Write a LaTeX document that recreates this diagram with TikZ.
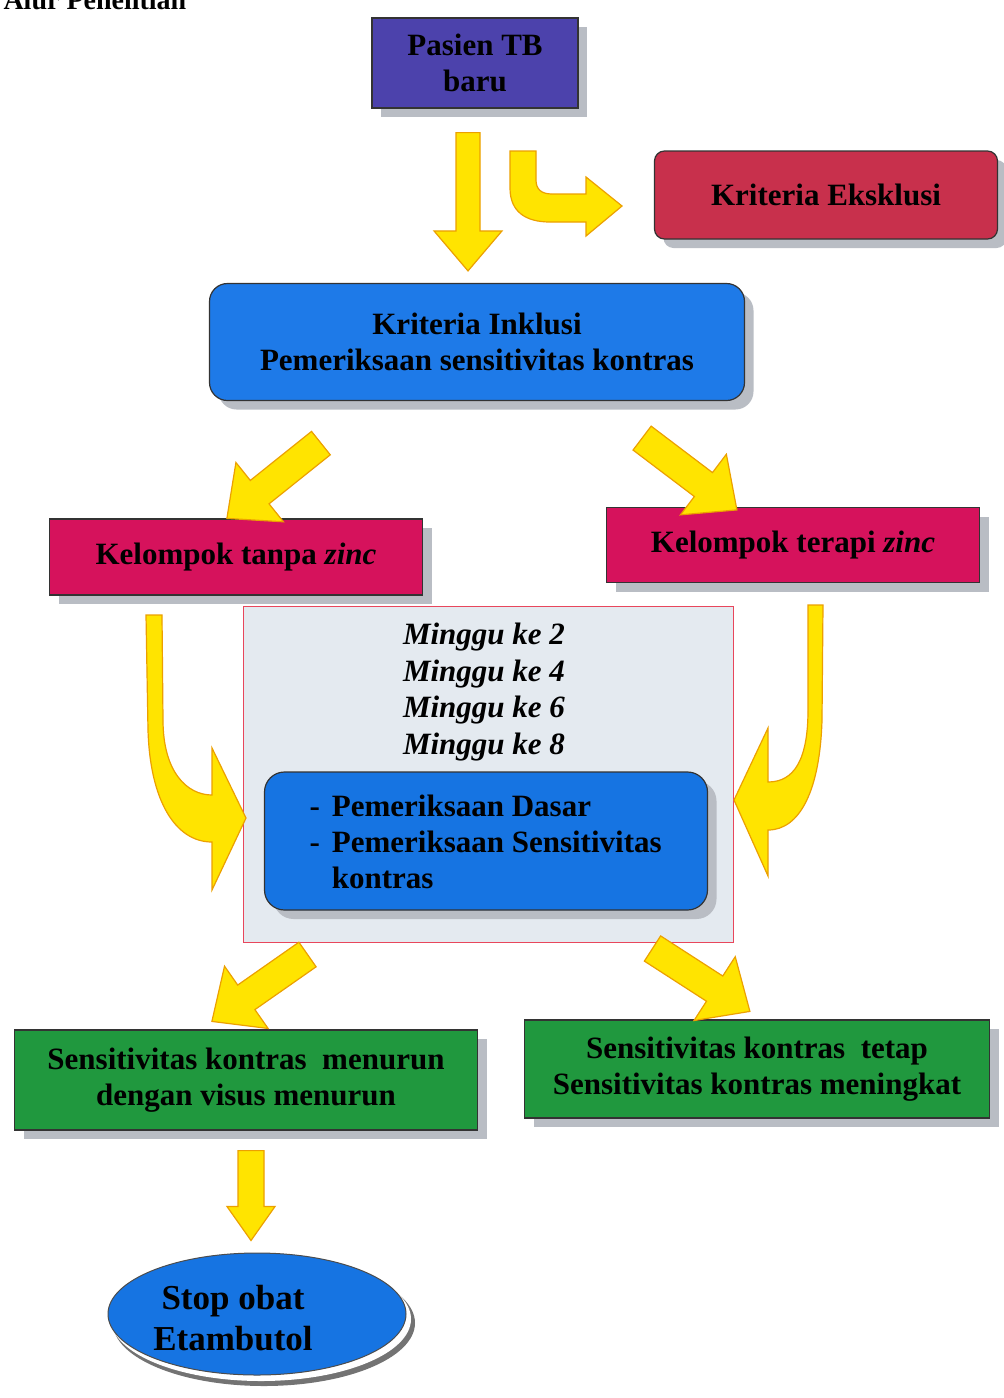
\documentclass[tikz,border=0pt]{standalone}
\usepackage{fontspec}
\setmainfont{Liberation Serif}
\usetikzlibrary{calc,shapes.geometric,shadows}
\definecolor{cpurple}{RGB}{76,66,172}
\definecolor{ccrimson}{RGB}{200,48,76}
\definecolor{cblue}{RGB}{30,122,232}
\definecolor{cblueb}{RGB}{22,116,226}
\definecolor{cmagenta}{RGB}{214,18,92}
\definecolor{cgreen}{RGB}{32,152,62}
\definecolor{cpanel}{RGB}{228,234,240}
\definecolor{cpanelb}{RGB}{232,70,92}
\definecolor{cyel}{RGB}{255,228,0}
\definecolor{cyelb}{RGB}{236,160,0}
\definecolor{cshadow}{RGB}{185,189,196}
\newcommand{\blockarr}[5]{%
  \coordinate (bac) at ($(#2)!#5!(#1)$);
  \path[yarrow] ($(#1)!#3!90:(#2)$) -- ($(bac)!#3!90:(#2)$) -- ($(bac)!#4!90:(#2)$) -- (#2)
    -- ($(bac)!#4!-90:(#2)$) -- ($(bac)!#3!-90:(#2)$) -- ($(#1)!#3!-90:(#2)$) -- cycle;}
\tikzset{
  txt/.style={font=\bfseries\fontsize{31}{36}\selectfont, align=center, text=black},
  box/.style={draw=black!80, line width=1.2pt, inner sep=0pt, txt},
  shad/.style={drop shadow={shadow xshift=9pt, shadow yshift=-9pt, fill=cshadow, opacity=1}},
  yarrow/.style={fill=cyel, draw=cyelb, line width=1.2pt, line join=miter},
}
\begin{document}
\begin{tikzpicture}[x=1pt,y=-1pt]
\useasboundingbox (0,0) rectangle (1004,1398);
\fill[white] (0,0) rectangle (1004,1398);
\begin{scope}
\clip (0,0) rectangle (1004,1398);
\node[anchor=base west, txt, font=\bfseries\fontsize{28}{34}\selectfont] (title) at (0,9) {Alur Penelitian};
\end{scope}

% nodes
\node[box, shad, fill=cpurple, minimum width=206pt, minimum height=90pt] (pasien) at (475,63) {Pasien TB\\baru};
\node[box, shad, fill=ccrimson, rounded corners=10pt, minimum width=343pt, minimum height=88pt] (ekskl) at (826,195) {Kriteria Eksklusi};
\node[box, shad, fill=cblue, rounded corners=18pt, minimum width=535pt, minimum height=117pt] (inkl) at (477,342) {Kriteria Inklusi\\Pemeriksaan sensitivitas kontras};
\node[box, shad, fill=cmagenta, minimum width=373pt, minimum height=76pt] (tanpa) at (236,557) {Kelompok tanpa \textit{zinc}};
\node[box, shad, fill=cmagenta, minimum width=373pt, minimum height=75pt] (terapi) at (793,545) {Kelompok terapi \textit{zinc}};
\node[draw=cpanelb, line width=1pt, fill=cpanel, minimum width=490pt, minimum height=336pt, inner sep=0pt] (panel) at (488,774) {};
\node[txt, font=\bfseries\itshape\fontsize{31}{36.5}\selectfont] (minggu) at (484,692) {Minggu ke 2\\Minggu ke 4\\Minggu ke 6\\Minggu ke 8};
\node[box, shad, fill=cblueb, rounded corners=20pt, minimum width=443pt, minimum height=138pt] (periksa) at (486,841) {};
\node[txt, anchor=west] (periksatxt) at (306,845) {\begin{tabular}{@{}l@{\hspace{12pt}}l@{}}-&Pemeriksaan Dasar\\-&Pemeriksaan Sensitivitas\\&kontras\end{tabular}};
\node[box, shad, fill=cgreen, minimum width=463pt, minimum height=100pt] (turun) at (246,1080) {Sensitivitas kontras\ \ menurun\\dengan visus menurun};
\node[box, shad, fill=cgreen, minimum width=465pt, minimum height=98pt] (tetap) at (757,1069) {Sensitivitas kontras\ \ tetap\\Sensitivitas kontras meningkat};
\fill[black!55] (264,1323) ellipse [x radius=151pt, y radius=63pt];
\fill[white] (261,1319) ellipse [x radius=150pt, y radius=62pt];
\node[ellipse, draw=black!70, line width=1pt, fill=cblueb, minimum width=298pt, minimum height=122pt, inner sep=0pt, txt] (stop) at (257,1314) {};
\node[txt, font=\bfseries\fontsize{35}{41}\selectfont] (stoptxt) at (233,1318) {Stop obat\\Etambutol};

% straight block arrows
\coordinate (a1s) at ($(pasien.south)+(-7,24)$);
\coordinate (a1e) at ($(inkl.north)+(-9,-12)$);
\blockarr{a1s}{a1e}{12pt}{34pt}{40pt}
\coordinate (a2s) at ($(inkl.south west)+(112,42)$);
\coordinate (a2e) at ($(tanpa.north west)+(178,0)$);
\blockarr{a2s}{a2e}{15pt}{38pt}{42pt}
\coordinate (a3s) at ($(inkl.south east)+(-103,37)$);
\coordinate (a3e) at ($(terapi.north west)+(131,3)$);
\blockarr{a3s}{a3e}{15pt}{38pt}{42pt}
\coordinate (a4s) at ($(panel.south west)+(65,12)$);
\coordinate (a4e) at ($(turun.north west)+(198,-8)$);
\blockarr{a4s}{a4e}{15pt}{38pt}{42pt}
\coordinate (a5s) at ($(panel.south west)+(410,6)$);
\coordinate (a5e) at ($(tetap.north west)+(226,-8)$);
\blockarr{a5s}{a5e}{15pt}{38pt}{42pt}
\coordinate (a6s) at ($(turun.south)+(5,20)$);
\coordinate (a6e) at ($(stop.north)+(-6,-12)$);
\blockarr{a6s}{a6e}{13pt}{24pt}{34pt}

% bent arrow to exclusion
\path[yarrow] (510,151) -- (510,188) .. controls (510,212) and (526,222) .. (550,222) -- (586,222) -- (586,236) -- (622,206)
  -- (586,177) -- (586,194) -- (552,194) .. controls (541,194) and (536,189) .. (536,180) -- (536,151) -- cycle;

% curved arrows into panel
\path[yarrow] (146,615) -- (148,730) .. controls (150,800) and (175,842) .. (212,842) -- (212,890) -- (246,818)
  -- (212,748) -- (212,795) .. controls (187,795) and (163,772) .. (163,720) -- (162,615) -- cycle;
\path[yarrow] (823,605) -- (822,720) .. controls (820,790) and (800,830) .. (768,830) -- (768,876) -- (734,800)
  -- (768,728) -- (768,782) .. controls (794,782) and (808,760) .. (808,710) -- (808,605) -- cycle;
\end{tikzpicture}
\end{document}
